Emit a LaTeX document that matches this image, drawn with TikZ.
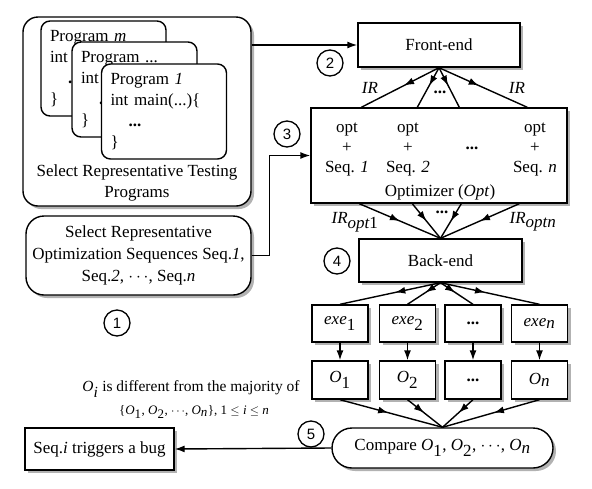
\documentclass[tikz,border=0pt]{standalone}
\usepackage{fontspec}
\setmainfont{Liberation Serif}
\setsansfont{Liberation Sans}
\usetikzlibrary{arrows.meta,shadows,decorations.markings}

\newcommand{\lowidx}[2]{\textit{#1}$_{\textrm{#2}}$}

\tikzset{
  box/.style={draw, fill=white, line width=1.4pt, inner sep=0pt, align=center,
    font=\fontsize{17}{21}\selectfont,
    drop shadow={shadow xshift=3pt, shadow yshift=-3pt, fill=black!60, opacity=0.5}},
  roundbox/.style={box, rounded corners=#1},
  card/.style={draw, fill=white, line width=1.4pt, rounded corners=9pt,
    minimum width=125pt, minimum height=95pt, text width=107pt, align=left,
    inner xsep=9pt, font=\fontsize{17}{21}\selectfont},
  stepnum/.style={circle, draw, line width=1.3pt, minimum size=26pt, inner sep=0pt,
    font=\sffamily\fontsize{15}{15}\selectfont},
  txt/.style={font=\fontsize{17}{21}\selectfont, align=center, inner sep=0pt},
  wire/.style={line width=1.4pt},
  midarrow/.style={postaction={decorate}, decoration={markings,
    mark=at position #1 with {\arrow{Latex[length=10pt,width=7pt]}}}},
  midarrow/.default=0.5,
  >={Latex[length=10pt,width=7pt]}
}

\begin{document}
\begin{tikzpicture}[x=1pt,y=-1pt]
  \useasboundingbox (0,0) rectangle (592,488);

  % Testing programs
  \node[roundbox=15pt, minimum width=228pt, minimum height=189pt] (prog) at (137,111.5) {};
  \node[card] (cardm) at (103.5,68.5) {Program \textit{m}\\int\\\hspace*{18pt}\textbf{.}\\\}};
  \node[card] (cardx) at (134.5,89.5) {Program ...\\int\\\hspace*{18pt}\textbf{.}\\\}};
  \node[card] (card1) at (164,111.5) {Program \textit{1}\\int main(...)\{\\\hspace*{18pt}\textbf{...}\\\}};
  \node[txt] (progtxt) at (137,182.5) {Select Representative Testing\\Programs};

  % Optimization sequences
  \node[roundbox=18pt, minimum width=225pt, minimum height=79pt, font=\fontsize{17}{22}\selectfont] (seq) at (138.5,255.5)
    {Select Representative\\Optimization Sequences Seq.\textit{1},\\Seq.\textit{2}, $\cdots$, Seq.\textit{n}};

  % Compiler pipeline
  \node[box, minimum width=162pt, minimum height=44pt] (fe) at (439,45) {Front-end};
  \node[box, minimum width=256pt, minimum height=95pt] (opt) at (439,155.5) {};
  \node[txt, font=\fontsize{17}{20}\selectfont] (s1) at (347,150) {opt\\+\\Seq. \textit{1}};
  \node[txt, font=\fontsize{17}{20}\selectfont] (s2) at (408,150) {opt\\+\\Seq. \textit{2}};
  \node[txt] (sdots) at (472,148) {\textbf{...}};
  \node[txt, font=\fontsize{17}{20}\selectfont] (sn) at (535,150) {opt\\+\\Seq. \textit{n}};
  \node[txt] (optname) at (440,192) {Optimizer (\textit{Opt})};
  \node[box, minimum width=163pt, minimum height=43pt] (be) at (440.5,260.5) {Back-end};

  % Executables and outputs
  \node[box, minimum width=56pt, minimum height=37pt] (exe1) at (340,323.5) {\lowidx{exe}{1}};
  \node[box, minimum width=56pt, minimum height=37pt] (exe2) at (407.5,323.5) {\lowidx{exe}{2}};
  \node[box, minimum width=56pt, minimum height=37pt] (exed) at (473,323.5) {\textbf{...}};
  \node[box, minimum width=56pt, minimum height=37pt] (exen) at (539.5,323.5) {\lowidx{exe}{\textit{n}}};
  \node[box, minimum width=56pt, minimum height=38pt] (o1) at (340,380) {\lowidx{O}{1}};
  \node[box, minimum width=56pt, minimum height=38pt] (o2) at (407.5,380) {\lowidx{O}{2}};
  \node[box, minimum width=56pt, minimum height=38pt] (od) at (473,380) {\textbf{...}};
  \node[box, minimum width=56pt, minimum height=38pt] (on) at (539.5,380) {\lowidx{O}{\textit{n}}};

  % Comparison and result
  \node[roundbox=20pt, minimum width=221pt, minimum height=40pt] (cmp) at (442.5,448)
    {Compare \lowidx{O}{1}, \lowidx{O}{2}, $\cdots$, \lowidx{O}{\textit{n}}};
  \node[box, minimum width=149pt, minimum height=42pt] (bug) at (99.5,449) {Seq.\textit{i} triggers a bug};
  \node[txt, font=\fontsize{15.5}{18}\selectfont] (note1) at (191,389) {\lowidx{O}{\textit{i}} is different from the majority of};
  \node[txt, font=\fontsize{13}{15}\selectfont] (note2) at (194,412)
    {\{\lowidx{O}{1}, \lowidx{O}{2}, $\cdots$, \lowidx{O}{\textit{n}}\}, 1 $\leq$ \textit{i} $\leq$ \textit{n}};

  % Step numbers
  \node[stepnum] (n1) at (117,323) {1};
  \node[stepnum] (n2) at (330,63) {2};
  \node[stepnum] (n3) at (287,134) {3};
  \node[stepnum] (n4) at (337,261) {4};
  \node[stepnum] (n5) at (311,434) {5};

  % Edge labels
  \node[txt] (irl) at (370,88) {\textit{IR}};
  \node[txt] (irr) at (517,88) {\textit{IR}};
  \node[txt] (ird) at (440,92) {\textbf{...}};
  \node[txt] (iropt1) at (355,222) {\textit{IR}$_{\textit{opt}\textrm{1}}$};
  \node[txt] (iroptn) at (533,222) {\textit{IR}$_{\textit{optn}}$};
  \node[txt] (iroptd) at (442,212) {\textbf{...}};

  % Inputs
  \draw[wire,->] (prog.east |- fe.west) -- (fe.west);
  \draw[wire,->] (seq.east) -- ++(18,0) |- (opt.west);

  % Front-end to optimizer
  \draw[wire, midarrow=0.45] (fe.south) -- ([xshift=51pt]opt.north west);
  \draw[wire, midarrow=0.45] (fe.south) -- ([xshift=107pt]opt.north west);
  \draw[wire, midarrow=0.45] (fe.south) -- ([xshift=149pt]opt.north west);
  \draw[wire, midarrow=0.45] (fe.south) -- ([xshift=217pt]opt.north west);

  % Optimizer to back-end
  \draw[wire, midarrow=0.5] ([xshift=49pt]opt.south west) -- (be.north);
  \draw[wire, midarrow=0.5] ([xshift=102pt]opt.south west) -- (be.north);
  \draw[wire, midarrow=0.5] ([xshift=151pt]opt.south west) -- (be.north);
  \draw[wire, midarrow=0.5] ([xshift=209pt]opt.south west) -- (be.north);

  % Back-end to executables
  \draw[wire, midarrow=0.45] (be.south) -- (exe1.north);
  \draw[wire, midarrow=0.45] (be.south) -- (exe2.north);
  \draw[wire, midarrow=0.45] (be.south) -- (exed.north);
  \draw[wire, midarrow=0.45] (be.south) -- (exen.north);

  % Run
  \draw[wire,->] (exe1) -- (o1);
  \draw[wire,->] (exe2) -- (o2);
  \draw[wire,->] (exed) -- (od);
  \draw[wire,->] (exen) -- (on);

  % Outputs to comparison
  \draw[wire, midarrow=0.47] (o1.south) -- (cmp.north);
  \draw[wire, midarrow=0.47] (o2.south) -- (cmp.north);
  \draw[wire, midarrow=0.47] (od.south) -- (cmp.north);
  \draw[wire, midarrow=0.47] (on.south) -- (cmp.north);

  \draw[wire,->] (cmp.west) -- (bug.east);
\end{tikzpicture}
\end{document}
